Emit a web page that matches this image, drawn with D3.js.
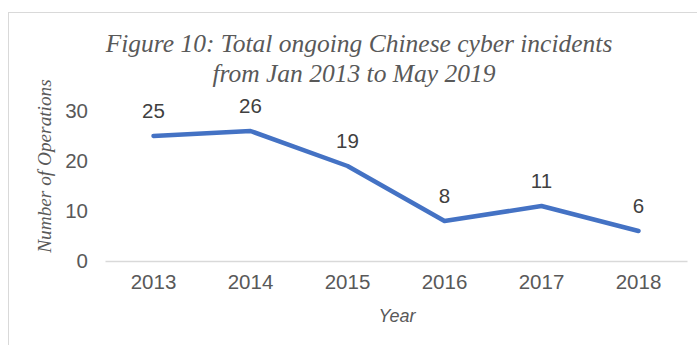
<!DOCTYPE html>
<html>
<head>
<meta charset="utf-8">
<script src="https://cdn.jsdelivr.net/npm/d3@7"></script>
<style>
  html, body { margin: 0; padding: 0; background: #fff; overflow: hidden; }
  svg { display: block; }
</style>
</head>
<body>
<svg id="chart" width="697" height="345"></svg>
<script>
// Yearly counts of ongoing operations
const years = ["2013", "2014", "2015", "2016", "2017", "2018"];
const operations = [25, 26, 19, 8, 11, 6];
const yTicks = [0, 10, 20, 30];
const titleLines = ["Figure 10: Total ongoing Chinese cyber incidents", "from Jan 2013 to May 2019"];

const svg = d3.select("#chart");
const plot = { left: 105, right: 687, top: 111, bottom: 261 };

// chart frame
svg.append("rect")
  .attr("x", 8.5).attr("y", 12.5)
  .attr("width", 720).attr("height", 360)
  .attr("fill", "#fff").attr("stroke", "#d9d9d9").attr("stroke-width", 1);

const x = d3.scaleBand().domain(years).range([plot.left, plot.right]);
const y = d3.scaleLinear().domain([0, 30]).range([plot.bottom, plot.top]);

// title
svg.append("text")
  .attr("y", 52)
  .attr("text-anchor", "middle")
  .attr("font-family", "'Liberation Serif', 'Times New Roman', serif")
  .attr("font-style", "italic")
  .attr("font-size", 25.5)
  .attr("fill", "#595959")
  .selectAll("tspan").data(titleLines).join("tspan")
  .attr("x", (d, i) => i === 0 ? 359 : 354)
  .attr("dy", (d, i) => i === 0 ? 0 : 30)
  .text(d => d);

// y axis (labels only)
const yAxis = d3.axisLeft(y).tickValues(yTicks).tickSize(0).tickPadding(0);
const gy = svg.append("g").attr("transform", `translate(${plot.left - 17},0)`).call(yAxis);
gy.select(".domain").remove();
gy.selectAll("text")
  .attr("font-family", "'Liberation Sans', Arial, sans-serif")
  .attr("font-size", 20.5)
  .attr("fill", "#595959");

// x axis
const xAxis = d3.axisBottom(x).tickSize(0).tickPadding(13);
const gx = svg.append("g").attr("transform", `translate(0,${plot.bottom})`).call(xAxis);
gx.select(".domain").attr("stroke", "#d9d9d9").attr("stroke-width", 1.3);
gx.selectAll("text")
  .attr("font-family", "'Liberation Sans', Arial, sans-serif")
  .attr("font-size", 20.5)
  .attr("fill", "#595959");

// axis titles
svg.append("text")
  .attr("transform", `translate(51,166) rotate(-90)`)
  .attr("text-anchor", "middle")
  .attr("font-family", "'Liberation Serif', 'Times New Roman', serif")
  .attr("font-style", "italic")
  .attr("font-size", 19.3)
  .attr("fill", "#595959")
  .text("Number of Operations");

svg.append("text")
  .attr("x", 397).attr("y", 322)
  .attr("text-anchor", "middle")
  .attr("font-family", "'Liberation Sans', Arial, sans-serif")
  .attr("font-style", "italic")
  .attr("font-size", 18)
  .attr("fill", "#595959")
  .text("Year");

// line
const cx = d => x(d) + x.bandwidth() / 2;
const line = d3.line().x((d, i) => cx(years[i])).y(d => y(d));
svg.append("path")
  .datum(operations)
  .attr("d", line)
  .attr("fill", "none")
  .attr("stroke", "#4472c4")
  .attr("stroke-width", 4.5)
  .attr("stroke-linejoin", "round")
  .attr("stroke-linecap", "round");

// value labels
svg.append("g").selectAll("text").data(operations).join("text")
  .attr("x", (d, i) => cx(years[i]))
  .attr("y", d => y(d) - 18)
  .attr("text-anchor", "middle")
  .attr("font-family", "'Liberation Sans', Arial, sans-serif")
  .attr("font-size", 20.5)
  .attr("fill", "#404040")
  .text(d => d);
</script>
</body>
</html>
